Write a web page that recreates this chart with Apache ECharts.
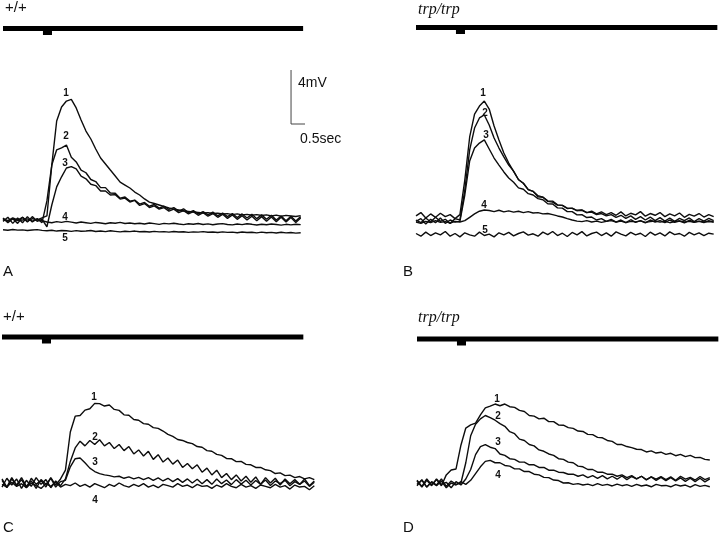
<!DOCTYPE html>
<html><head><meta charset="utf-8">
<script src="https://cdn.jsdelivr.net/npm/echarts@6/dist/echarts.min.js"></script>
<style>html,body{margin:0;padding:0;background:#fff}#c{width:720px;height:537px}</style>
</head><body><div id="c"></div>
<script>
// ---- data: sampled every DT seconds, values in mV ----
const DT = 0.04;
const panelTitles = ["+/+", "trp/trp", "+/+", "trp/trp"];
const panelLetters = ["A", "B", "C", "D"];
const traceNames = ["1", "2", "3", "4", "5"];
const scaleBarMV = 4, scaleBarS = 0.5;
// stimulus monitor (light flash notch), time in s and relative level
const stimTime = [0, 0.348, 0.348, 0.381, 0.381];
const stimLevel = [0.5, 0.5, 0.1, 0.1, 0.5];

const A1 = [0.10,-0.05,0.15,0.00,0.20,-0.10,0.10,0.00,0.15,0.30,4.07,7.33,8.37,8.81,8.93,8.30,7.41,6.59,6.00,5.26,4.59,4.15,3.70,3.26,2.81,2.59,2.37,2.07,1.85,1.56,1.33,1.22,1.11,1.00,0.89,0.81,0.74,0.67,0.63,0.59,0.56,0.52,0.55,0.48,0.50,0.44,0.47,0.40,0.45,0.38,0.42,0.35,0.40,0.33,0.38,0.30,0.36,0.28,0.34,0.30,0.26,0.32];
const A2 = [-0.10,0.20,-0.25,0.15,-0.20,0.25,-0.15,0.10,-0.20,1.41,4.07,5.20,5.35,5.55,4.65,4.30,3.70,3.50,3.00,2.85,2.40,2.40,2.00,1.98,1.62,1.70,1.40,1.47,1.18,1.30,1.02,1.15,0.88,1.02,0.78,0.92,0.66,0.82,0.55,0.70,0.45,0.62,0.38,0.58,0.30,0.52,0.25,0.48,0.18,0.45,0.15,0.42,0.10,0.38,0.05,0.35,0.00,0.30,-0.05,0.28,-0.08,0.25];
const A3 = [0.15,-0.20,0.10,-0.25,0.20,-0.15,0.25,-0.10,0.05,-0.50,1.11,2.45,3.20,3.85,3.95,3.78,3.25,3.05,2.65,2.55,2.15,2.15,1.85,1.88,1.55,1.62,1.33,1.45,1.08,1.22,0.92,1.05,0.80,0.92,0.66,0.80,0.55,0.70,0.45,0.62,0.35,0.55,0.28,0.48,0.20,0.42,0.12,0.38,0.05,0.32,0.00,0.28,-0.05,0.25,-0.10,0.22,-0.12,0.20,-0.15,0.18,-0.18,0.15];
const A4 = [0.05,-0.10,0.10,-0.05,0.00,0.08,-0.08,0.05,-0.05,-0.15,-0.20,-0.12,-0.18,-0.10,-0.16,-0.22,-0.15,-0.20,-0.25,-0.18,-0.22,-0.28,-0.20,-0.24,-0.18,-0.26,-0.22,-0.28,-0.24,-0.30,-0.22,-0.27,-0.32,-0.25,-0.29,-0.24,-0.30,-0.34,-0.28,-0.31,-0.26,-0.33,-0.29,-0.35,-0.30,-0.27,-0.33,-0.36,-0.30,-0.34,-0.28,-0.32,-0.37,-0.31,-0.35,-0.30,-0.33,-0.38,-0.32,-0.36,-0.31,-0.34];
const A5 = [-0.72,-0.76,-0.70,-0.75,-0.73,-0.78,-0.74,-0.71,-0.77,-0.80,-0.76,-0.82,-0.78,-0.80,-0.84,-0.79,-0.83,-0.81,-0.78,-0.85,-0.82,-0.86,-0.80,-0.84,-0.88,-0.83,-0.86,-0.82,-0.87,-0.85,-0.89,-0.84,-0.88,-0.86,-0.90,-0.85,-0.89,-0.87,-0.92,-0.88,-0.90,-0.86,-0.91,-0.89,-0.93,-0.88,-0.92,-0.90,-0.94,-0.89,-0.93,-0.91,-0.95,-0.90,-0.94,-0.92,-0.96,-0.91,-0.95,-0.93,-0.97,-0.94];

const B1 = [0.30,0.55,0.15,0.45,0.20,0.50,0.25,0.40,0.10,0.40,2.96,6.15,7.85,8.44,8.81,8.22,6.96,5.93,4.96,4.22,3.60,3.00,2.72,2.25,2.12,1.72,1.68,1.38,1.32,1.10,1.08,0.85,0.88,0.70,0.75,0.55,0.65,0.45,0.60,0.40,0.55,0.35,0.60,0.30,0.50,0.38,0.62,0.28,0.48,0.35,0.55,0.25,0.45,0.30,0.52,0.20,0.42,0.28,0.48,0.22,0.40,0.25];
const B2 = [0.00,-0.20,0.15,-0.15,0.20,-0.10,0.05,-0.25,0.10,0.00,2.22,5.19,6.81,7.56,7.78,7.04,6.07,5.33,4.67,4.07,3.62,2.98,2.72,2.25,2.12,1.80,1.70,1.42,1.40,1.12,1.08,0.88,0.86,0.70,0.72,0.55,0.58,0.40,0.48,0.30,0.40,0.20,0.35,0.12,0.30,0.05,0.25,0.00,0.22,-0.05,0.18,-0.08,0.15,-0.10,0.12,-0.05,0.15,-0.12,0.10,-0.08,0.12,-0.05];
const B3 = [-0.10,0.10,-0.30,0.05,-0.20,0.15,-0.25,0.00,-0.15,-0.10,1.85,4.37,5.33,5.70,5.93,5.26,4.59,4.07,3.56,3.11,2.80,2.38,2.28,1.95,1.85,1.58,1.50,1.20,1.18,0.90,0.88,0.62,0.62,0.38,0.40,0.18,0.22,0.00,0.10,-0.10,0.05,-0.15,0.00,-0.20,0.02,-0.18,-0.05,-0.22,0.00,-0.15,-0.05,-0.20,0.00,-0.18,-0.08,-0.22,-0.02,-0.16,-0.10,-0.20,-0.05,-0.15];
const B4 = [-0.15,-0.25,-0.10,-0.20,-0.05,-0.18,-0.12,-0.22,-0.10,-0.15,-0.05,0.20,0.45,0.65,0.74,0.70,0.62,0.72,0.60,0.68,0.58,0.65,0.55,0.62,0.52,0.55,0.45,0.48,0.40,0.30,0.22,0.10,0.00,-0.08,-0.12,-0.05,-0.15,-0.08,-0.18,-0.10,-0.05,-0.15,-0.08,-0.20,-0.10,-0.14,-0.06,-0.18,-0.12,-0.08,-0.16,-0.10,-0.20,-0.12,-0.06,-0.15,-0.10,-0.18,-0.08,-0.14,-0.12,-0.16];
const B5 = [-1.00,-1.20,-0.90,-1.15,-0.95,-1.10,-0.85,-1.20,-1.00,-1.25,-0.95,-1.10,-1.20,-0.90,-1.15,-1.05,-1.25,-0.95,-1.10,-0.92,-1.18,-1.00,-0.88,-1.12,-1.02,-1.20,-0.90,-1.08,-0.85,-1.15,-0.98,-1.22,-0.92,-1.10,-0.86,-1.18,-1.00,-0.90,-1.15,-0.95,-1.20,-0.88,-1.05,-1.18,-0.92,-1.10,-0.98,-1.22,-0.90,-1.12,-0.96,-1.18,-0.88,-1.08,-1.00,-1.20,-0.92,-1.10,-0.95,-1.15,-0.98,-1.05];

const C1 = [0.30,-0.30,0.40,-0.20,0.25,-0.35,0.35,-0.10,0.20,-0.30,0.40,-0.15,0.30,0.96,3.78,4.95,5.00,5.40,5.50,5.90,5.88,5.70,5.78,5.45,5.38,5.05,5.02,4.70,4.65,4.40,4.35,4.10,4.05,3.85,3.60,3.45,3.22,3.15,3.00,2.92,2.70,2.65,2.40,2.35,2.12,2.05,1.82,1.80,1.58,1.60,1.38,1.35,1.15,1.15,0.98,0.92,0.70,0.75,0.55,0.58,0.40,0.48,0.30,0.40,0.25];
const C2 = [-0.30,0.35,-0.15,0.30,-0.40,0.20,-0.25,0.40,-0.10,0.25,-0.35,0.15,-0.20,0.30,1.60,2.60,3.10,2.75,3.15,2.85,3.20,2.75,3.00,2.55,2.85,2.40,2.70,2.15,2.45,2.00,2.35,1.75,2.10,1.55,1.85,1.40,1.70,1.15,1.45,1.05,1.35,0.80,1.10,0.60,0.95,0.40,0.70,0.25,0.60,0.15,0.50,0.05,0.45,-0.10,0.40,0.00,0.35,-0.15,0.30,-0.05,0.25,-0.10,0.30,-0.20,0.15];
const C3 = [0.20,-0.35,0.30,-0.15,0.40,-0.25,0.15,-0.40,0.25,-0.10,0.35,-0.30,0.10,0.20,1.20,1.80,1.85,1.50,1.10,0.85,0.70,0.60,0.55,0.45,0.50,0.35,0.45,0.30,0.42,0.25,0.40,0.20,0.38,0.15,0.35,0.10,0.32,0.05,0.30,0.00,0.28,-0.05,0.25,-0.10,0.30,-0.05,0.22,-0.12,0.25,-0.08,0.20,-0.15,0.18,-0.10,0.22,-0.18,0.15,-0.05,0.20,-0.20,0.10,-0.10,0.15,-0.25,0.05];
const C4 = [-0.10,-0.30,0.05,-0.25,-0.05,-0.35,0.00,-0.20,-0.40,-0.05,-0.25,0.05,-0.30,-0.10,-0.20,0.00,-0.25,-0.10,-0.30,-0.05,-0.20,-0.35,-0.10,-0.25,0.00,-0.20,-0.30,-0.10,-0.25,-0.05,-0.30,-0.15,-0.35,-0.10,-0.20,-0.30,-0.05,-0.25,-0.15,-0.35,-0.10,-0.25,-0.20,-0.40,-0.15,-0.30,-0.05,-0.25,-0.35,-0.10,-0.30,-0.20,-0.40,-0.15,-0.25,-0.35,-0.10,-0.30,-0.20,-0.45,-0.15,-0.30,-0.25,-0.50,-0.20];

const D1 = [0.20,-0.25,0.30,-0.15,0.25,-0.20,0.60,0.96,1.04,2.80,4.07,4.30,4.44,5.04,5.56,5.70,5.85,5.72,5.85,5.65,5.60,5.38,5.30,5.00,4.95,4.75,4.80,4.55,4.55,4.30,4.28,4.10,4.05,3.85,3.82,3.60,3.58,3.38,3.35,3.15,3.08,2.85,2.85,2.70,2.62,2.50,2.48,2.30,2.38,2.22,2.28,2.12,2.20,2.02,2.12,1.95,2.05,1.88,1.90,1.75,1.70];
const D2 = [-0.20,0.25,-0.30,0.10,-0.15,0.30,-0.25,0.15,-0.10,0.00,1.50,3.50,4.35,4.75,5.00,4.85,4.65,4.40,4.20,3.80,3.65,3.25,3.15,2.85,2.75,2.45,2.35,2.15,2.05,1.80,1.75,1.55,1.50,1.25,1.20,1.00,1.00,0.80,0.80,0.65,0.65,0.50,0.60,0.40,0.55,0.30,0.50,0.25,0.45,0.20,0.42,0.18,0.40,0.15,0.38,0.12,0.35,0.10,0.35,0.08,0.30];
const D3 = [0.15,-0.30,0.20,-0.20,0.30,-0.10,0.05,-0.35,0.10,-0.15,0.30,1.00,2.10,2.70,2.85,2.65,2.55,2.15,2.05,1.80,1.75,1.55,1.55,1.35,1.35,1.15,1.15,0.95,0.95,0.80,0.78,0.65,0.65,0.50,0.60,0.40,0.55,0.35,0.55,0.30,0.50,0.28,0.52,0.25,0.48,0.30,0.50,0.22,0.45,0.28,0.48,0.25,0.45,0.20,0.50,0.28,0.42,0.22,0.48,0.25,0.40];
const D4 = [-0.10,0.20,-0.30,0.05,-0.20,0.15,-0.35,0.00,-0.15,0.10,-0.10,0.20,0.70,1.20,1.60,1.68,1.50,1.50,1.30,1.25,1.05,1.05,0.85,0.85,0.65,0.60,0.42,0.40,0.22,0.18,0.00,0.02,-0.10,-0.05,-0.15,-0.08,-0.20,-0.05,-0.18,-0.10,-0.22,-0.08,-0.20,-0.12,-0.25,-0.10,-0.22,-0.15,-0.28,-0.10,-0.20,-0.18,-0.28,-0.12,-0.22,-0.15,-0.30,-0.12,-0.25,-0.18,-0.28];

// ---- layout (pixels) ----
const PX_S = 122, PX_MV = 13.5;
const panels = [
  {traces:[A1,A2,A3,A4,A5], left:3,   zeroY:220, tMax:2.46, stimTop:23.5, stimEnd:2.46},
  {traces:[B1,B2,B3,B4,B5], left:416, zeroY:220, tMax:2.46, stimTop:22.5, stimEnd:2.47},
  {traces:[C1,C2,C3,C4],    left:2,   zeroY:483, tMax:2.58, stimTop:332,  stimEnd:2.47},
  {traces:[D1,D2,D3,D4],    left:417, zeroY:483, tMax:2.46, stimTop:334,  stimEnd:2.47}
];
const MV_MIN = -2, MV_MAX = 12;

const grids = [], xAxes = [], yAxes = [], series = [];
panels.forEach((p, k) => {
  // trace grid
  grids.push({left:p.left, top:p.zeroY - MV_MAX*PX_MV, width:p.tMax*PX_S, height:(MV_MAX-MV_MIN)*PX_MV});
  xAxes.push({type:'value', gridIndex:2*k, min:0, max:p.tMax, show:false});
  yAxes.push({type:'value', gridIndex:2*k, min:MV_MIN, max:MV_MAX, show:false});
  // stimulus grid
  grids.push({left:p.left, top:p.stimTop, width:p.tMax*PX_S, height:10});
  xAxes.push({type:'value', gridIndex:2*k+1, min:0, max:p.tMax, show:false});
  yAxes.push({type:'value', gridIndex:2*k+1, min:0, max:1, show:false});
  p.traces.forEach((arr, j) => {
    series.push({type:'line', name:panelLetters[k]+traceNames[j], xAxisIndex:2*k, yAxisIndex:2*k,
      data: arr.map((v, i) => [i*DT, v]), symbol:'none', silent:true, animation:false,
      lineStyle:{color:'#0d0d0d', width:1.4}});
  });
  const sd = stimTime.map((t, i) => [t, stimLevel[i]]).concat([[p.stimEnd, 0.5]]);
  series.push({type:'line', xAxisIndex:2*k+1, yAxisIndex:2*k+1, data:sd, symbol:'none',
    silent:true, animation:false, clip:false, lineStyle:{color:'#000', width:5, join:'miter', cap:'butt'}});
});
// scale bar in panel A coordinates
const sbT = 2.361, sbV = 7.11;
series.push({type:'line', xAxisIndex:0, yAxisIndex:0, clip:false, symbol:'none', silent:true, animation:false,
  data:[[sbT, sbV + scaleBarMV], [sbT, sbV], [sbT + scaleBarS, sbV]],
  lineStyle:{color:'#444', width:1}});

const sans = 'Liberation Sans, Arial, sans-serif';
const txt = (x, y, text, font, align) => ({type:'text', x, y, silent:true,
  style:{text, font, fill:'#111', align: align || 'left', verticalAlign:'middle'}});
const graphics = [
  txt(5, 8, panelTitles[0], '15px ' + sans),
  txt(418, 10, panelTitles[1], 'italic 16px Liberation Serif, serif'),
  txt(3, 317, panelTitles[2], '15px ' + sans),
  txt(418, 318, panelTitles[3], 'italic 16px Liberation Serif, serif'),
  txt(3, 272, panelLetters[0], '15px ' + sans),
  txt(403, 272, panelLetters[1], '15px ' + sans),
  txt(3, 528, panelLetters[2], '15px ' + sans),
  txt(403, 528, panelLetters[3], '15px ' + sans),
  txt(298, 83, scaleBarMV + 'mV', '14px ' + sans),
  txt(300, 139, scaleBarS + 'sec', '14px ' + sans)
];
const numFont = 'bold 10px ' + sans;
[[66,93],[66,136],[65,163],[65,217],[65,238]].forEach((c,i)=>graphics.push(txt(c[0],c[1],traceNames[i],numFont,'center')));
[[483,93],[485,113],[486,135],[484,205],[485,230]].forEach((c,i)=>graphics.push(txt(c[0],c[1],traceNames[i],numFont,'center')));
[[94,397],[95,437],[95,462],[95,500]].forEach((c,i)=>graphics.push(txt(c[0],c[1],traceNames[i],numFont,'center')));
[[497,399],[498,416],[498,442],[498,475]].forEach((c,i)=>graphics.push(txt(c[0],c[1],traceNames[i],numFont,'center')));

const chart = echarts.init(document.getElementById('c'), null, {renderer:'canvas'});
chart.setOption({backgroundColor:'#fff', animation:false, grid:grids, xAxis:xAxes, yAxis:yAxes, series, graphic:graphics});
</script></body></html>
